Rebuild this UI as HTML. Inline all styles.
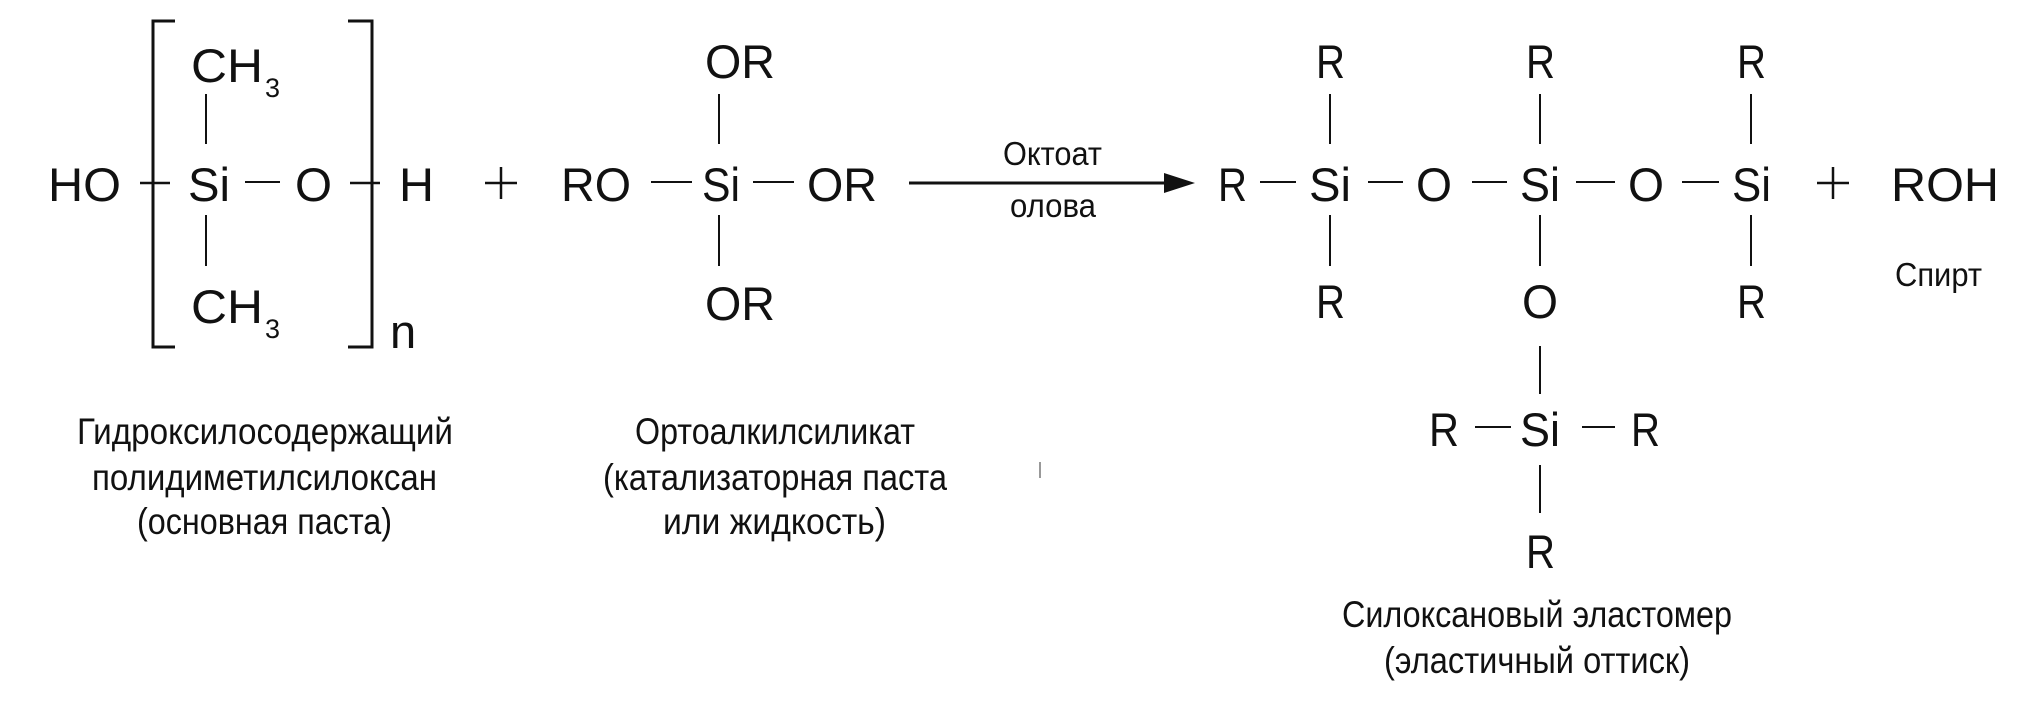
<!DOCTYPE html>
<html><head><meta charset="utf-8"><style>
html,body{margin:0;padding:0;background:#fff;}
svg{display:block;}
text{font-family:"Liberation Sans",sans-serif;fill:#111;}
.c{font-size:47px;}
.l{font-size:37px;}
</style></head><body>
<svg width="2020" height="718" viewBox="0 0 2020 718" xmlns="http://www.w3.org/2000/svg">
<g stroke="#111" stroke-width="2" fill="none">
<polyline points="175,21 153,21 153,347 175,347" stroke-width="3"/>
<polyline points="348,21 372,21 372,347 348,347" stroke-width="3"/>
<line x1="140" y1="183" x2="170" y2="183" stroke-width="2.5"/>
<line x1="350" y1="183" x2="380" y2="183" stroke-width="2.5"/>
<line x1="245" y1="182" x2="280" y2="182"/>
<line x1="206" y1="94" x2="206" y2="144"/>
<line x1="206" y1="215" x2="206" y2="266"/>
<line x1="651" y1="182" x2="692" y2="182"/>
<line x1="753" y1="182" x2="794" y2="182"/>
<line x1="719" y1="94" x2="719" y2="144"/>
<line x1="719" y1="215" x2="719" y2="266"/>
<line x1="909" y1="183" x2="1170" y2="183" stroke-width="3"/>
<line x1="1260" y1="182" x2="1296" y2="182"/>
<line x1="1368" y1="182" x2="1403" y2="182"/>
<line x1="1472" y1="182" x2="1507" y2="182"/>
<line x1="1576" y1="182" x2="1615" y2="182"/>
<line x1="1682" y1="182" x2="1719" y2="182"/>
<line x1="1330" y1="94" x2="1330" y2="144"/>
<line x1="1330" y1="215" x2="1330" y2="266"/>
<line x1="1540" y1="94" x2="1540" y2="144"/>
<line x1="1540" y1="215" x2="1540" y2="266"/>
<line x1="1751" y1="94" x2="1751" y2="144"/>
<line x1="1751" y1="215" x2="1751" y2="266"/>
<line x1="1540" y1="346" x2="1540" y2="394"/>
<line x1="1475" y1="427" x2="1511" y2="427"/>
<line x1="1582" y1="427" x2="1615" y2="427"/>
<line x1="1540" y1="465" x2="1540" y2="513"/>
<line x1="1040" y1="462" x2="1040" y2="478" stroke-width="1.5" stroke="#777"/>
<line x1="485" y1="183" x2="517" y2="183" stroke-width="2.5"/>
<line x1="501" y1="167" x2="501" y2="199" stroke-width="2.5"/>
<line x1="1817" y1="183" x2="1849" y2="183" stroke-width="2.5"/>
<line x1="1833" y1="167" x2="1833" y2="199" stroke-width="2.5"/>
</g>
<polygon points="1195,183 1164,173 1164,193" fill="#111"/>

<g class="c">
<text x="48" y="201" textLength="73" lengthAdjust="spacingAndGlyphs">HO</text>
<text x="188" y="201" textLength="42" lengthAdjust="spacingAndGlyphs">Si</text>
<text x="295" y="201" textLength="37" lengthAdjust="spacingAndGlyphs">O</text>
<text x="399" y="201" textLength="35" lengthAdjust="spacingAndGlyphs">H</text>
<text x="191" y="82" textLength="72" lengthAdjust="spacingAndGlyphs">CH</text>
<text x="265" y="97" style="font-size:27px">3</text>
<text x="191" y="323" textLength="72" lengthAdjust="spacingAndGlyphs">CH</text>
<text x="265" y="338" style="font-size:27px">3</text>
<text x="390" y="348">n</text>

<text x="561" y="201" textLength="70" lengthAdjust="spacingAndGlyphs">RO</text>
<text x="702" y="201" textLength="38" lengthAdjust="spacingAndGlyphs">Si</text>
<text x="807" y="201" textLength="70" lengthAdjust="spacingAndGlyphs">OR</text>
<text x="705" y="78" textLength="70" lengthAdjust="spacingAndGlyphs">OR</text>
<text x="705" y="320" textLength="70" lengthAdjust="spacingAndGlyphs">OR</text>

<text x="1218" y="201" textLength="29" lengthAdjust="spacingAndGlyphs">R</text>
<text x="1309" y="201" textLength="42" lengthAdjust="spacingAndGlyphs">Si</text>
<text x="1416" y="201" textLength="36" lengthAdjust="spacingAndGlyphs">O</text>
<text x="1520" y="201" textLength="40" lengthAdjust="spacingAndGlyphs">Si</text>
<text x="1628" y="201" textLength="36" lengthAdjust="spacingAndGlyphs">O</text>
<text x="1732" y="201" textLength="39" lengthAdjust="spacingAndGlyphs">Si</text>
<text x="1891" y="201" textLength="108" lengthAdjust="spacingAndGlyphs">ROH</text>

<text x="1316" y="78" textLength="29" lengthAdjust="spacingAndGlyphs">R</text>
<text x="1526" y="78" textLength="29" lengthAdjust="spacingAndGlyphs">R</text>
<text x="1737" y="78" textLength="29" lengthAdjust="spacingAndGlyphs">R</text>
<text x="1316" y="318" textLength="29" lengthAdjust="spacingAndGlyphs">R</text>
<text x="1522" y="318" textLength="36" lengthAdjust="spacingAndGlyphs">O</text>
<text x="1737" y="318" textLength="29" lengthAdjust="spacingAndGlyphs">R</text>

<text x="1429" y="446" textLength="30" lengthAdjust="spacingAndGlyphs">R</text>
<text x="1520" y="446" textLength="40" lengthAdjust="spacingAndGlyphs">Si</text>
<text x="1631" y="446" textLength="29" lengthAdjust="spacingAndGlyphs">R</text>
<text x="1526" y="568" textLength="29" lengthAdjust="spacingAndGlyphs">R</text>
</g>

<g class="l">
<text x="1003" y="165" style="font-size:33px" textLength="99" lengthAdjust="spacingAndGlyphs">Октоат</text>
<text x="1010" y="217" style="font-size:33px" textLength="86" lengthAdjust="spacingAndGlyphs">олова</text>
<text x="1895" y="286" style="font-size:33px" textLength="87" lengthAdjust="spacingAndGlyphs">Спирт</text>

<text x="77" y="444" textLength="376" lengthAdjust="spacingAndGlyphs">Гидроксилосодержащий</text>
<text x="92" y="490" textLength="345" lengthAdjust="spacingAndGlyphs">полидиметилсилоксан</text>
<text x="137" y="534" textLength="255" lengthAdjust="spacingAndGlyphs">(основная паста)</text>

<text x="635" y="444" textLength="280" lengthAdjust="spacingAndGlyphs">Ортоалкилсиликат</text>
<text x="603" y="490" textLength="344" lengthAdjust="spacingAndGlyphs">(катализаторная паста</text>
<text x="663" y="534" textLength="223" lengthAdjust="spacingAndGlyphs">или жидкость)</text>

<text x="1342" y="627" textLength="390" lengthAdjust="spacingAndGlyphs">Силоксановый эластомер</text>
<text x="1384" y="673" textLength="306" lengthAdjust="spacingAndGlyphs">(эластичный оттиск)</text>
</g>
</svg>
</body></html>
